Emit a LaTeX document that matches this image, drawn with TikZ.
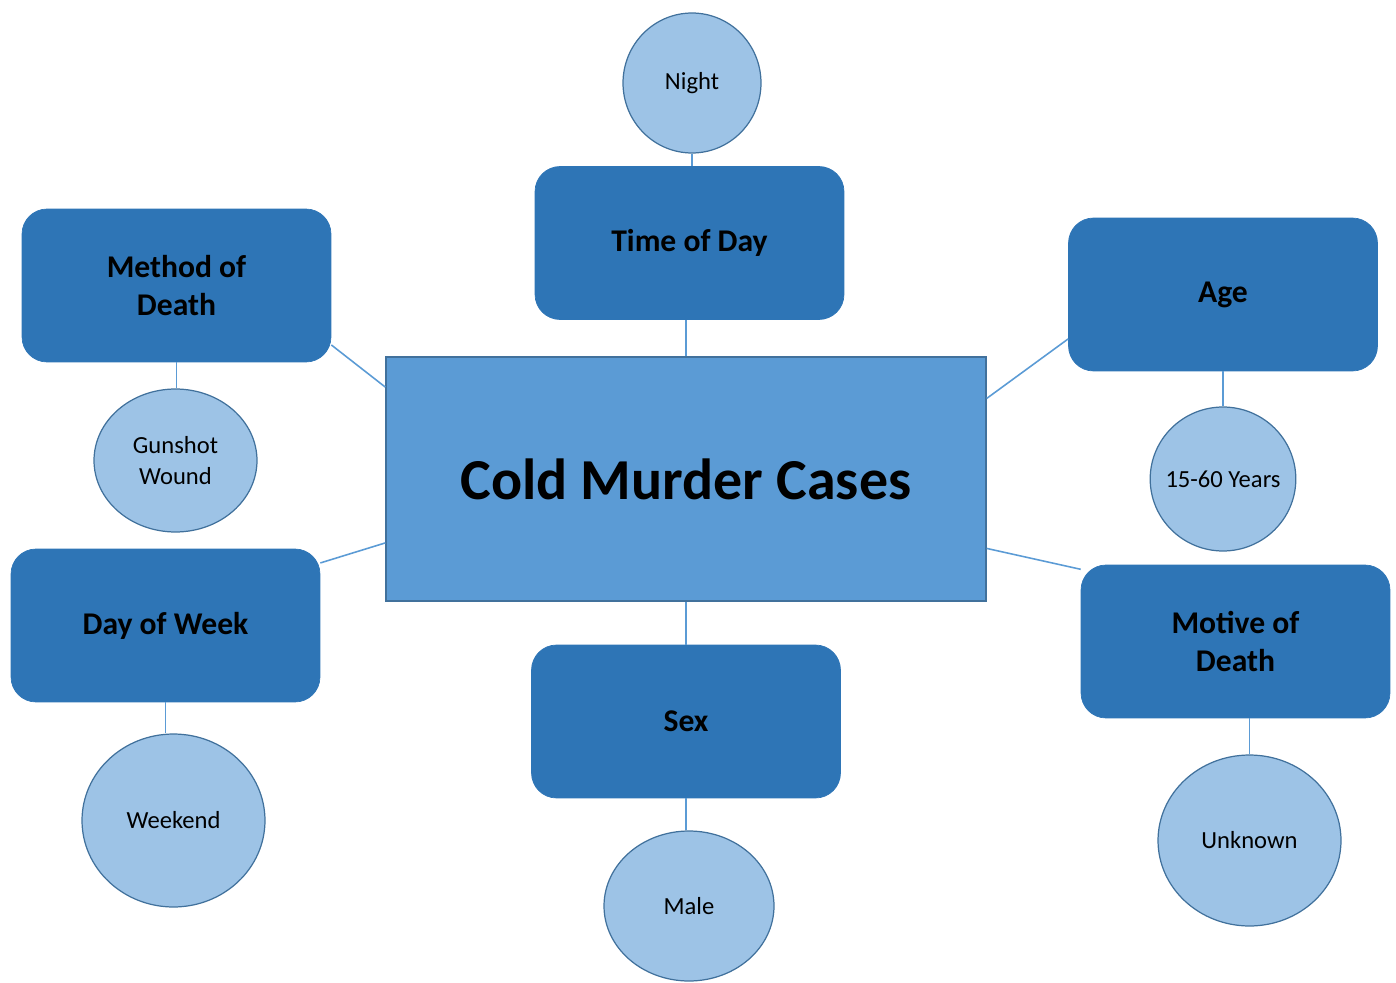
\documentclass[tikz,border=0pt]{standalone}
\usepackage{fontspec}
\setmainfont{Carlito}
\usetikzlibrary{positioning,shapes.geometric}
\definecolor{boxblue}{HTML}{2E75B6}
\definecolor{mainblue}{HTML}{5B9BD5}
\definecolor{leafblue}{HTML}{9DC3E6}
\definecolor{edgeblue}{HTML}{41719C}

\begin{document}
\begin{tikzpicture}[x=0.02cm, y=-0.02cm,
  hub/.style={draw=edgeblue,line width=0.9pt,fill=mainblue,minimum width=12cm,minimum height=4.88cm,font=\bfseries\fontsize{33}{38}\selectfont},
  cat/.style={draw=boxblue,fill=boxblue,rounded corners=0.5cm,minimum width=6.18cm,minimum height=3.06cm,align=center,font=\bfseries\fontsize{18}{21.6}\selectfont},
  val/.style={ellipse,draw=edgeblue,line width=0.7pt,fill=leafblue,inner sep=0pt,align=center,font=\fontsize{14}{18}\selectfont},
  link/.style={draw=mainblue,line width=0.9pt}]
      \useasboundingbox (0,0) rectangle (1396,983);

      \node[hub] (cmc) at (686,479) {Cold Murder Cases};

      \node[cat] (time) at (689.5,243) {Time of Day};
      \node[cat] (meth) at (176.5,285.5) {Method of\\Death};
      \node[cat] (age) at (1223,294.5) {Age};
      \node[cat] (day) at (165.5,625.5) {Day of Week};
      \node[cat] (sex) at (686,721.5) {Sex};
      \node[cat] (mot) at (1235.5,641.5) {Motive of\\Death};

      \node[val,minimum width=2.76cm,minimum height=2.8cm] (night) at (692,83) {Night};
      \node[val,minimum width=3.26cm,minimum height=2.86cm] (gun) at (175.5,460.5) {Gunshot\\Wound};
      \node[val,inner xsep=-0.12cm,minimum width=2.88cm,minimum height=2.88cm] (years) at (1223,479) {15-60 Years};
      \node[val,minimum width=3.66cm,minimum height=3.46cm] (wkend) at (173.5,820.5) {Weekend};
      \node[val,minimum width=3.4cm,minimum height=3.0cm] (male) at (689,906) {Male};
      \node[val,minimum width=3.66cm,minimum height=3.42cm] (unk) at (1249.5,840.5) {Unknown};

      \draw[link] (cmc.north) -- (cmc.north |- time.south);
      \draw[link] (night.south) -- (night.south |- time.north);
      \draw[link] (meth.-21) -- (cmc.163);
      \draw[link] (meth.south) -- (meth.south |- gun.north);
      \draw[link] (age.-164) -- (cmc.15.5);
      \draw[link] (age.south) -- (years.north);
      \draw[link] (day.22) -- (cmc.-168.5);
      \draw[link] (day.south) -- (day.south |- wkend.north);
      \draw[link] (cmc.south) -- (sex.north);
      \draw[link] (sex.south) -- (sex.south |- male.north);
      \draw[link] (mot.155) -- (cmc.-13);
      \draw[link] (unk.north) -- (unk.north |- mot.south);
    \end{tikzpicture}
\end{document}
